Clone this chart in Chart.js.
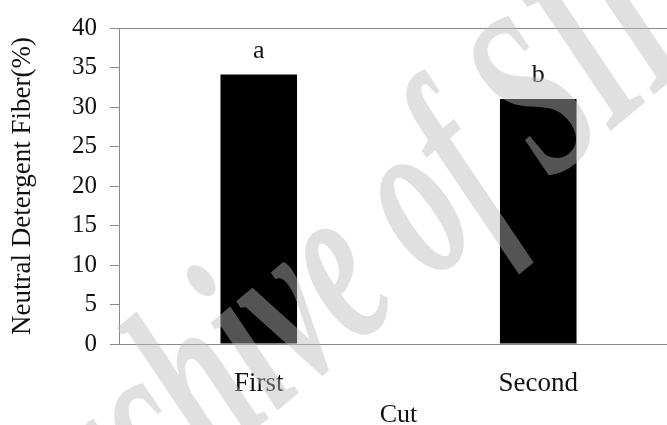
<!DOCTYPE html>
<html>
<head>
<meta charset="utf-8">
<script src="https://cdn.jsdelivr.net/npm/chart.js@4.4.1/dist/chart.umd.min.js"></script>
<style>
  html, body { margin: 0; padding: 0; background: #fff; overflow: hidden; }
  #wrap { width: 680px; height: 425px; }
</style>
</head>
<body>
<div id="wrap"><canvas id="chart" width="680" height="425"></canvas></div>
<script>
const cuts = ['First', 'Second'];
const ndf = [34.1, 31.0];
const groupLetters = ['a', 'b'];
const yMin = 0, yMax = 40, yStep = 5;
const xTitle = 'Cut';
const yTitle = 'Neutral Detergent Fiber(%)';
const watermark = 'Archive of SID';

const SERIF = '"Liberation Serif", "Times New Roman", serif';
const AXIS = '#8a8a8a';

// letters over the bars (significance groups)
const letterPlugin = {
    id: 'letters',
    afterDatasetsDraw(chart) {
        const ctx = chart.ctx;
        const meta = chart.getDatasetMeta(0);
        ctx.save();
        ctx.font = '26px ' + SERIF;
        ctx.fillStyle = '#111';
        ctx.textAlign = 'center';
        ctx.textBaseline = 'alphabetic';
        meta.data.forEach((bar, i) => {
            ctx.fillText(groupLetters[i], bar.x, bar.y - 17);
        });
        ctx.restore();
    }
};

// faint diagonal watermark drawn over everything
const watermarkPlugin = {
    id: 'watermark',
    afterDraw(chart) {
        const ctx = chart.ctx;
        const size = 240;
        ctx.save();
        ctx.font = 'italic bold ' + size + 'px ' + SERIF;
        const pre = ctx.measureText('Archiv').width + ctx.measureText('e').width / 2;
        ctx.translate(345, 285);
        ctx.rotate(-40 * Math.PI / 180);
        ctx.scale(0.6, 1);
        ctx.fillStyle = 'rgba(187,187,187,0.45)';
        ctx.textBaseline = 'alphabetic';
        ctx.fillText(watermark, -pre, size * 0.22);
        ctx.restore();
    }
};

new Chart(document.getElementById('chart'), {
    type: 'bar',
    data: {
        labels: cuts,
        datasets: [{
            data: ndf,
            backgroundColor: '#000',
            borderWidth: 0,
            categoryPercentage: 1,
            barPercentage: 0.274
        }]
    },
    options: {
        responsive: false,
        animation: false,
        devicePixelRatio: 1,
        layout: { padding: { top: 24, right: 2, left: 0, bottom: 0 } },
        plugins: { legend: { display: false }, tooltip: { enabled: false } },
        scales: {
            x: {
                afterFit: s => { s.height = 81; },
                grid: { display: false },
                border: { display: true, color: AXIS, width: 1 },
                ticks: { color: '#111', font: { family: SERIF, size: 27 }, padding: 16 },
                title: {
                    display: true, text: xTitle, color: '#111',
                    font: { family: SERIF, size: 26, lineHeight: 1 },
                    padding: { top: 0, bottom: -3 }
                }
            },
            y: {
                min: yMin, max: yMax,
                afterFit: s => { s.width = 119; },
                grid: {
                    color: c => (c.tick && c.tick.value === yMax) ? AXIS : 'rgba(0,0,0,0)',
                    tickColor: AXIS,
                    tickLength: 9,
                    lineWidth: 1
                },
                border: { display: true, color: AXIS, width: 1 },
                ticks: { stepSize: yStep, color: '#111', font: { family: SERIF, size: 25 }, padding: 13 },
                title: {
                    display: true, text: yTitle, color: '#111',
                    font: { family: SERIF, size: 27, lineHeight: 1.2 },
                    padding: { top: 7, bottom: 0 }
                }
            }
        }
    },
    plugins: [letterPlugin, watermarkPlugin]
});
</script>
</body>
</html>
